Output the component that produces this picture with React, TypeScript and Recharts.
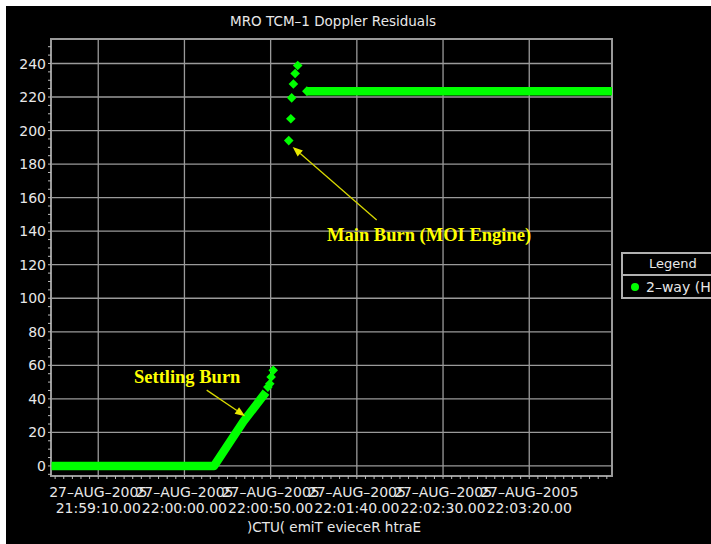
import React from "react";
import {
  ComposedChart,
  Line,
  Scatter,
  XAxis,
  YAxis,
  CartesianGrid,
  ReferenceLine,
  ReferenceDot,
  ReferenceArea,
} from "recharts";

// ---- text ----
const chartTitle = "MRO TCM–1 Doppler Residuals";
const xAxisTitle = ")CTU( emiT evieceR htraE";
const legendTitle = "Legend";
const seriesName = "2–way (H";

// ---- axes (x = seconds after 27-AUG-2005 21:59:10.00 ERT) ----
const xDomain = [-27.4, 298];
const yDomain = [-6, 254.6];
const xMajorTicks = [0, 50, 100, 150, 200, 250];
const xTickDates = ["27–AUG–2005", "27–AUG–2005", "27–AUG–2005", "27–AUG–2005", "27–AUG–2005", "27–AUG–2005"];
const xTickTimes = ["21:59:10.00", "22:00:00.00", "22:00:50.00", "22:01:40.00", "22:02:30.00", "22:03:20.00"];
const yMajorTicks = [0, 20, 40, 60, 80, 100, 120, 140, 160, 180, 200, 220, 240];

// ---- series: 2-way Doppler residuals (dense runs + discrete points) ----
const settlingBandTimes = [-27.4, 67.2, 84.2, 97.3];
const settlingBandValues = [0, 0, 26.5, 44];
const settlingPointTimes = [98.4, 99.5, 100.3, 101.5];
const settlingPointValues = [47, 49, 53, 57];
const mainPointTimes = [110.5, 111.7, 112.2, 113.2, 114.2, 115.7, 121];
const mainPointValues = [194, 207, 219.5, 227.8, 234, 238.8, 223.5];
const mainBandTimes = [121, 298];
const mainBandValues = [223.5, 223.5];

// ---- annotations ----
const settlingLabel = { text: "Settling Burn", t: 51.6, v: 53.5 };
const settlingArrow = { t1: 62.9, v1: 45.2, t2: 85.2, v2: 29.7 };
const mainLabel = { text: "Main Burn (MOI Engine)", t: 191.9, v: 138.2 };
const mainArrow = { t1: 161.5, v1: 146.7, t2: 112.8, v2: 190.2 };

const zip = (ts: number[], vs: number[]) => ts.map((t, i) => ({ t, v: vs[i] }));

const settlingBand = zip(settlingBandTimes, settlingBandValues);
const settlingPoints = zip(settlingPointTimes, settlingPointValues);
const mainPoints = zip(mainPointTimes, mainPointValues);
const mainBand = zip(mainBandTimes, mainBandValues);

const xAllTicks: number[] = [];
for (let t = -25; t <= 295; t += 5) xAllTicks.push(t);
const yAllTicks: number[] = [];
for (let v = -5; v <= 250; v += 5) yAllTicks.push(v);

const GREEN = "#00ff00";
const TEXT = "#e8e8e8";
const GRID = "#9a9a9a";
const SANS = "'DejaVu Sans', sans-serif";

const XTick = (props: any) => {
  const { x, y, payload } = props;
  const i = xMajorTicks.indexOf(payload.value);
  if (i < 0) return null;
  return (
    <text x={x} y={y} textAnchor="middle" fill={TEXT} fontSize={14} fontFamily={SANS}>
      <tspan x={x} dy={16}>{xTickDates[i]}</tspan>
      <tspan x={x} dy={16}>{xTickTimes[i]}</tspan>
    </text>
  );
};

const YTick = (props: any) => {
  const { x, y, payload } = props;
  if (yMajorTicks.indexOf(payload.value) < 0) return null;
  return (
    <text x={x} y={y} dy="0.36em" textAnchor="end" fill={TEXT} fontSize={14} fontFamily={SANS}>
      {payload.value}
    </text>
  );
};

const Diamond = (props: any) => {
  const { cx, cy } = props;
  if (cx == null || cy == null) return null;
  const r = 4.8;
  return (
    <polygon
      points={`${cx},${cy - r} ${cx + r},${cy} ${cx},${cy + r} ${cx - r},${cy}`}
      fill={GREEN}
    />
  );
};

const Arrow = (props: any) => {
  const { x1, y1, x2, y2 } = props;
  if ([x1, y1, x2, y2].some((n) => typeof n !== "number")) return null;
  const a = Math.atan2(y2 - y1, x2 - x1);
  const len = 10;
  const w = 4;
  const bx = x2 - len * Math.cos(a);
  const by = y2 - len * Math.sin(a);
  const px = -Math.sin(a) * w;
  const py = Math.cos(a) * w;
  return (
    <g>
      <line x1={x1} y1={y1} x2={bx} y2={by} stroke="#d8d800" strokeWidth={1.3} />
      <polygon
        points={`${x2},${y2} ${bx + px},${by + py} ${bx - px},${by - py}`}
        fill="#e8e800"
      />
    </g>
  );
};

const AnnotationText = (props: any) => {
  const { viewBox, text } = props;
  if (!viewBox) return null;
  const cx = viewBox.x + (viewBox.width || 0) / 2;
  const cy = viewBox.y + (viewBox.height || 0) / 2;
  return (
    <text
      x={cx}
      y={cy}
      dy="0.35em"
      textAnchor="middle"
      fill="#ffff00"
      fontSize={18.5}
      fontWeight="bold"
      fontFamily="'Liberation Serif', serif"
    >
      {text}
    </text>
  );
};

export default function App() {
  return (
    <div
      style={{
        position: "absolute",
        left: 0,
        top: 0,
        width: 711,
        height: 544,
        background: "#ffffff",
        overflow: "hidden",
      }}
    >
      <div
        style={{
          position: "absolute",
          left: 6,
          top: 6,
          width: 705,
          height: 538,
          background: "#000000",
          overflow: "hidden",
        }}
      >
        <div
          style={{
            position: "absolute",
            left: 0,
            top: 7,
            width: 654,
            textAlign: "center",
            color: TEXT,
            fontFamily: SANS,
            fontSize: 13.5,
            lineHeight: "16px",
          }}
        >
          {chartTitle}
        </div>
        <div style={{ position: "absolute", left: 0, top: 0 }}>
          <ComposedChart
            width={705}
            height={538}
            margin={{ top: 33, right: 99, bottom: 18, left: 5 }}
          >
            <CartesianGrid
              stroke={GRID}
              strokeWidth={1.3}
              horizontalValues={yMajorTicks}
              verticalValues={xMajorTicks}
            />
            <XAxis
              type="number"
              dataKey="t"
              domain={xDomain}
              allowDataOverflow
              ticks={xAllTicks}
              interval={0}
              tick={<XTick />}
              tickSize={3}
              tickLine={{ stroke: "#bbbbbb" }}
              axisLine={{ stroke: GRID }}
              height={50}
            />
            <YAxis
              type="number"
              dataKey="v"
              domain={yDomain}
              allowDataOverflow
              ticks={yAllTicks}
              interval={0}
              tick={<YTick />}
              tickSize={3}
              tickLine={{ stroke: "#bbbbbb" }}
              axisLine={{ stroke: GRID }}
              width={40}
            />
            <ReferenceArea
              x1={xDomain[0]}
              x2={xDomain[1]}
              y1={yDomain[0]}
              y2={yDomain[1]}
              fill="none"
              fillOpacity={0}
              stroke={GRID}
              strokeWidth={2}
              ifOverflow="visible"
            />
            <Line
              data={settlingBand}
              dataKey="v"
              stroke={GREEN}
              strokeWidth={8.5}
              strokeLinejoin="round"
              dot={false}
              activeDot={false}
              isAnimationActive={false}
            />
            <Line
              data={mainBand}
              dataKey="v"
              stroke={GREEN}
              strokeWidth={8.5}
              dot={false}
              activeDot={false}
              isAnimationActive={false}
            />
            <Scatter data={settlingPoints} dataKey="v" shape={Diamond} isAnimationActive={false} />
            <Scatter data={mainPoints} dataKey="v" shape={Diamond} isAnimationActive={false} />
            <ReferenceLine
              segment={[
                { x: settlingArrow.t1, y: settlingArrow.v1 },
                { x: settlingArrow.t2, y: settlingArrow.v2 },
              ]}
              stroke="#d8d800"
              shape={Arrow}
              ifOverflow="visible"
            />
            <ReferenceLine
              segment={[
                { x: mainArrow.t1, y: mainArrow.v1 },
                { x: mainArrow.t2, y: mainArrow.v2 },
              ]}
              stroke="#d8d800"
              shape={Arrow}
              ifOverflow="visible"
            />
            <ReferenceDot
              x={settlingLabel.t}
              y={settlingLabel.v}
              r={0}
              fill="none"
              stroke="none"
              label={<AnnotationText text={settlingLabel.text} />}
            />
            <ReferenceDot
              x={mainLabel.t}
              y={mainLabel.v}
              r={0}
              fill="none"
              stroke="none"
              label={<AnnotationText text={mainLabel.text} />}
            />
          </ComposedChart>
        </div>
        <div
          style={{
            position: "absolute",
            left: 0,
            top: 513,
            width: 656,
            textAlign: "center",
            color: TEXT,
            fontFamily: SANS,
            fontSize: 13.5,
            lineHeight: "16px",
          }}
        >
          {xAxisTitle}
        </div>
        <div
          style={{
            position: "absolute",
            left: 615,
            top: 246,
            width: 120,
            height: 47,
            border: "2px solid #b0b0b0",
            boxSizing: "border-box",
            fontFamily: SANS,
            color: TEXT,
          }}
        >
          <div
            style={{
              height: 20,
              lineHeight: "20px",
              fontSize: 13,
              textAlign: "left",
              paddingLeft: 26,
              borderBottom: "2px solid #b0b0b0",
            }}
          >
            {legendTitle}
          </div>
          <div style={{ position: "relative", height: 23, whiteSpace: "nowrap" }}>
            <span
              style={{
                position: "absolute",
                left: 8,
                top: 7,
                width: 8,
                height: 8,
                borderRadius: 4,
                background: GREEN,
              }}
            />
            <span
              style={{
                position: "absolute",
                left: 23,
                top: 2,
                fontSize: 14,
                lineHeight: "18px",
              }}
            >
              {seriesName}
            </span>
          </div>
        </div>
      </div>
    </div>
  );
}
